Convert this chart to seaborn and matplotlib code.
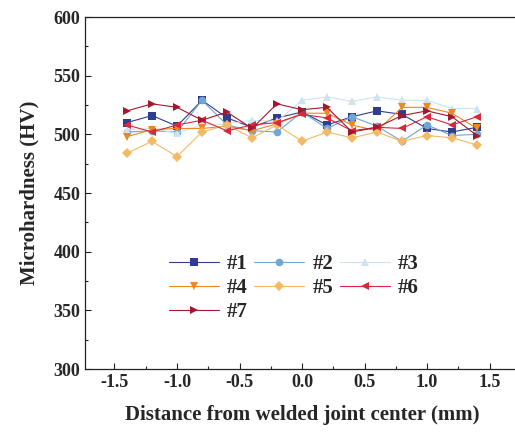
import matplotlib
matplotlib.use("Agg")
import matplotlib.pyplot as plt
import seaborn as sns
import pandas as pd
from matplotlib.ticker import MultipleLocator

distance = [-1.4, -1.2, -1.0, -0.8, -0.6, -0.4, -0.2, 0.0, 0.2, 0.4, 0.6, 0.8, 1.0, 1.2, 1.4]
s1 = [510, 516, 507, 529, 514, 506, 514, 519, 508, 515, 520, 517, 505, 502, 506]
s2 = [502, 503, 502, 529, 508, 503, 502, 519, 505, 515, 507, 494, 508, 499, 500]
s3 = [504, 505, 501, 508, 509, 512, 511, 529, 532, 528, 532, 529, 529, 522, 522]
s4 = [498, 504, 505, 505, 507, 503, 509, 518, 518, 508, 503, 523, 523, 518, 505]
s5 = [484, 494, 481, 502, 508, 497, 508, 494, 502, 497, 502, 494, 499, 497, 491]
s6 = [508, 502, 508, 512, 503, 508, 510, 517, 514, 503, 506, 505, 515, 508, 515]
s7 = [520, 526, 523, 512, 519, 505, 526, 521, 523, 502, 506, 516, 520, 515, 499]
labels = ["#1", "#2", "#3", "#4", "#5", "#6", "#7"]
series = [s1, s2, s3, s4, s5, s6, s7]

colors = ["#2f3d8f", "#6fa6d4", "#cde4f0", "#f0861f", "#f4b964", "#d8283c", "#a3182c"]
markers = ["s", "o", "^", "v", "D", "<", ">"]
msizes = [6, 6.5, 7, 7, 6, 7, 7]

rows = []
for lab, vals in zip(labels, series):
    for xv, yv in zip(distance, vals):
        rows.append({"Distance": xv, "HV": yv, "Sample": lab})
df = pd.DataFrame(rows)

sns.set_theme(style="ticks")
plt.rcParams["font.family"] = ["Liberation Serif", "DejaVu Serif"]
plt.rcParams["font.weight"] = "bold"
plt.rcParams["axes.unicode_minus"] = False

fig = plt.figure(figsize=(5.15, 4.34), dpi=100)
ax = fig.add_axes([85 / 515, 1 - 369 / 434, (519 - 85) / 515, (369 - 17) / 434])

for lab, c, m, ms in zip(labels, colors, markers, msizes):
    sub = df[df["Sample"] == lab]
    sns.lineplot(data=sub, x="Distance", y="HV", ax=ax, color=c, marker=m,
                 markersize=ms, markeredgewidth=0, linewidth=0.8, label=lab,
                 estimator=None, sort=False)

ax.set_xlim(-1.736, 1.736)
ax.set_ylim(300, 600)
ax.xaxis.set_major_locator(MultipleLocator(0.5))
ax.xaxis.set_minor_locator(MultipleLocator(0.25))
ax.yaxis.set_major_locator(MultipleLocator(50))
ax.yaxis.set_minor_locator(MultipleLocator(25))
ax.tick_params(which="both", direction="in", top=False, right=False, labelsize=13, width=0.8, color="#222222")
ax.tick_params(which="major", length=4)
ax.tick_params(which="minor", length=2.5)
for lbl in ax.get_xticklabels() + ax.get_yticklabels():
    lbl.set_fontweight("bold")
for sp in ax.spines.values():
    sp.set_linewidth(0.9)
    sp.set_color("#222222")

ax.set_xlabel("Distance from welded joint center (mm)", fontsize=15, fontweight="bold", labelpad=10)
ax.set_ylabel("Microhardness (HV)", fontsize=15, fontweight="bold", labelpad=10)

handles, labs = ax.get_legend_handles_labels()
order = [0, 3, 6, 1, 4, 2, 5]
for h in handles:
    h.set_markersize(5.5)
leg = ax.legend([handles[i] for i in order], [labs[i] for i in order],
                ncol=3, frameon=False, loc="upper left", bbox_to_anchor=(0.15, 0.38),
                prop={"family": "Liberation Serif", "weight": "bold", "size": 15},
                handlelength=2.4, columnspacing=0.3, labelspacing=0.2, handletextpad=0.4)

fig.savefig("out.png", dpi=100)
